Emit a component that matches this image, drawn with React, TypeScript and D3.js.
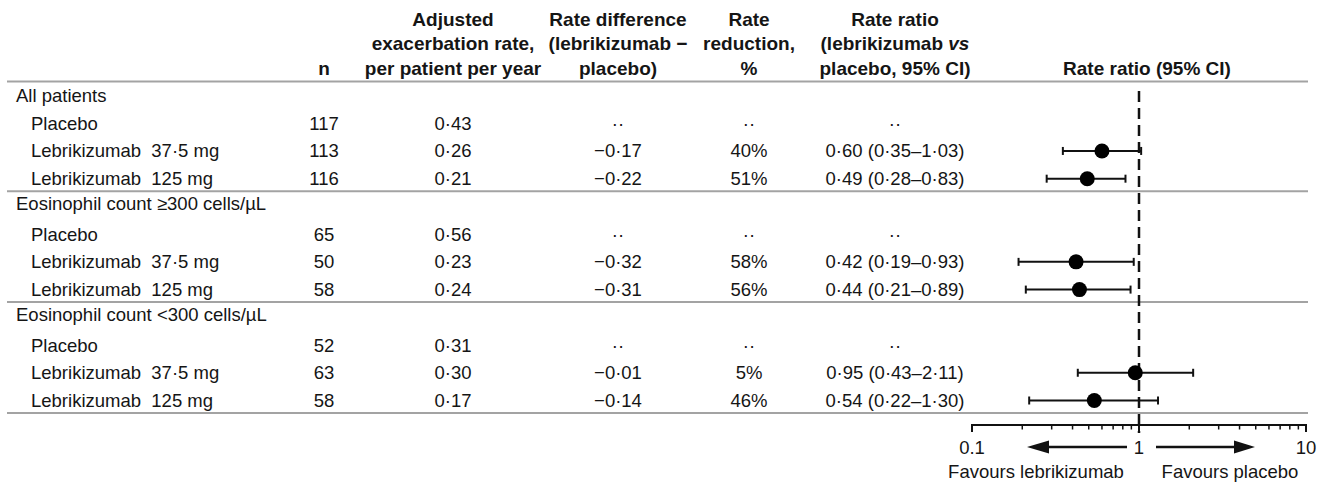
import React from "react";
import * as d3 from "d3";

const groups = ["All patients", "Eosinophil count ≥300 cells/µL", "Eosinophil count <300 cells/µL"];
const arms = ["Placebo", "Lebrikizumab  37·5 mg", "Lebrikizumab  125 mg"];
const nValues = [117, 113, 116, 65, 50, 58, 52, 63, 58];
const adjRates = [0.43, 0.26, 0.21, 0.56, 0.23, 0.24, 0.31, 0.3, 0.17];
const rateDiffs: (number | null)[] = [null, -0.17, -0.22, null, -0.32, -0.31, null, -0.01, -0.14];
const rateReductions: (number | null)[] = [null, 40, 51, null, 58, 56, null, 5, 46];
const rateRatios: (number | null)[] = [null, 0.6, 0.49, null, 0.42, 0.44, null, 0.95, 0.54];
const ciLower: (number | null)[] = [null, 0.35, 0.28, null, 0.19, 0.21, null, 0.43, 0.22];
const ciUpper: (number | null)[] = [null, 1.03, 0.83, null, 0.93, 0.89, null, 2.11, 1.3];
const axisTicks = [0.1, 1, 10];
const axisTickLabels = ["0.1", "1", "10"];

const FONT = "'Liberation Sans', Arial, Helvetica, sans-serif";
const TXT = "#151515";
const RULE = "#a3a3a3";

const f2 = (v: number) => d3.format(".2f")(v).replace(".", "·");

export default function App() {
  const x = d3.scaleLog().domain([0.1, 10]).range([972, 1306]);
  const rowY = d3.scaleLinear().domain([0, 11]).range([102, 407]);
  const cols = { label: 16, sub: 31, n: 324, adj: 453, diff: 618, red: 749, ratio: 895, forest: 1147 };

  const rows: any[] = [];
  groups.forEach((g, gi) => {
    const base = gi * 4;
    rows.push({ kind: "group", text: g, y: rowY(base) - (gi > 0 ? 3 : 0) });
    arms.forEach((a, ai) => {
      const k = gi * 3 + ai;
      rows.push({ kind: "arm", text: a, k, y: rowY(base + 1 + ai) });
    });
  });
  const seps = groups.map((_, gi) => rowY(gi * 4 + 3) + 6);

  const minor: number[] = [];
  for (let d = 0.1; d < 10; d *= 10) for (let m = 2; m <= 9; m++) minor.push(d * m);

  const headBase = [25.5, 50, 74.5];
  const bold = { fontWeight: 700, fontSize: 19 };
  const headers: { x: number; lines: (string | null)[] }[] = [
    { x: cols.n, lines: [null, null, "n"] },
    { x: cols.adj, lines: ["Adjusted", "exacerbation rate,", "per patient per year"] },
    { x: cols.diff, lines: ["Rate difference", "(lebrikizumab −", "placebo)"] },
    { x: cols.red, lines: ["Rate", "reduction,", "%"] },
    { x: cols.forest, lines: [null, null, "Rate ratio (95% CI)"] },
  ];
  const axisY = 425;
  const arrowY = 447;
  const x1 = x(1);

  return (
    <svg width={1330} height={483} style={{ position: "absolute", left: 0, top: 0, background: "#fff" }} fontFamily={FONT}>
      <rect width={1330} height={483} fill="#fff" />
      {/* headers */}
      {headers.map((h, i) =>
        h.lines.map((l, li) =>
          l ? (
            <text key={`h${i}-${li}`} x={h.x} y={headBase[li]} textAnchor="middle" fill={TXT} {...bold}>
              {l}
            </text>
          ) : null
        )
      )}
      <text x={cols.ratio} y={headBase[0]} textAnchor="middle" fill={TXT} {...bold}>Rate ratio</text>
      <text x={cols.ratio} y={headBase[1]} textAnchor="middle" fill={TXT} {...bold}>
        (lebrikizumab <tspan fontStyle="italic">vs</tspan>
      </text>
      <text x={cols.ratio} y={headBase[2]} textAnchor="middle" fill={TXT} {...bold}>placebo, 95% CI)</text>

      {/* rules */}
      <line x1={7} x2={1308} y1={81.5} y2={81.5} stroke={RULE} strokeWidth={2} />
      {seps.map((s, i) => (
        <line key={`s${i}`} x1={7} x2={1308} y1={s} y2={s} stroke={RULE} strokeWidth={2} />
      ))}

      {/* reference line */}
      <line x1={x1} x2={x1} y1={91} y2={433} stroke="#111" strokeWidth={2.5} strokeDasharray="11,6" />

      {/* rows */}
      {rows.map((r, i) => {
        if (r.kind === "group")
          return (
            <text key={`r${i}`} x={cols.label} y={r.y} fill={TXT} fontSize={18.5}>
              {r.text}
            </text>
          );
        const k = r.k;
        const dots = "··";
        const rr = rateRatios[k];
        const cy = r.y - 6.5;
        return (
          <g key={`r${i}`} fontSize={18.5} fill={TXT}>
            <text x={cols.sub} y={r.y} style={{ whiteSpace: "pre" }}>{r.text}</text>
            <text x={cols.n} y={r.y} textAnchor="middle">{nValues[k]}</text>
            <text x={cols.adj} y={r.y} textAnchor="middle">{f2(adjRates[k])}</text>
            <text x={cols.diff} y={r.y} textAnchor="middle">{rateDiffs[k] == null ? dots : f2(rateDiffs[k] as number)}</text>
            <text x={cols.red} y={r.y} textAnchor="middle">{rateReductions[k] == null ? dots : `${rateReductions[k]}%`}</text>
            <text x={cols.ratio} y={r.y} textAnchor="middle">
              {rr == null ? dots : `${f2(rr)} (${f2(ciLower[k] as number)}–${f2(ciUpper[k] as number)})`}
            </text>
            {rr != null && (
              <g stroke="#111" strokeWidth={2}>
                <line x1={x(ciLower[k] as number)} x2={x(ciUpper[k] as number)} y1={cy} y2={cy} />
                <line x1={x(ciLower[k] as number)} x2={x(ciLower[k] as number)} y1={cy - 4} y2={cy + 4} />
                <line x1={x(ciUpper[k] as number)} x2={x(ciUpper[k] as number)} y1={cy - 4} y2={cy + 4} />
                <circle cx={x(rr)} cy={cy} r={7.5} fill="#000" stroke="none" />
              </g>
            )}
          </g>
        );
      })}

      {/* axis */}
      <line x1={x(0.1)} x2={x(10)} y1={axisY} y2={axisY} stroke="#111" strokeWidth={2} />
      {axisTicks.map((t) => (
        <line key={`t${t}`} x1={x(t)} x2={x(t)} y1={axisY - 1} y2={axisY + 7} stroke="#111" strokeWidth={2} />
      ))}
      {minor.map((t, i) => (
        <line key={`m${i}`} x1={x(t)} x2={x(t)} y1={axisY} y2={axisY + 4.5} stroke="#111" strokeWidth={1.5} />
      ))}
      {axisTicks.map((t, i) => (
        <text key={`tl${t}`} x={x(t)} y={454} textAnchor="middle" fontSize={18.5} fill={TXT}>
          {axisTickLabels[i]}
        </text>
      ))}
      {/* arrows */}
      <line x1={x1 - 12} x2={x1 - 92} y1={arrowY} y2={arrowY} stroke="#111" strokeWidth={2.5} />
      <path d={`M${x1 - 112},${arrowY} L${x1 - 90},${arrowY - 6.5} L${x1 - 90},${arrowY + 6.5} Z`} fill="#111" />
      <line x1={x1 + 17} x2={x1 + 97} y1={arrowY} y2={arrowY} stroke="#111" strokeWidth={2.5} />
      <path d={`M${x1 + 116},${arrowY} L${x1 + 95},${arrowY - 6.5} L${x1 + 95},${arrowY + 6.5} Z`} fill="#111" />
      <text x={1036} y={478} textAnchor="middle" fontSize={18.5} fill={TXT}>Favours lebrikizumab</text>
      <text x={1230} y={478} textAnchor="middle" fontSize={18.5} fill={TXT}>Favours placebo</text>
    </svg>
  );
}
